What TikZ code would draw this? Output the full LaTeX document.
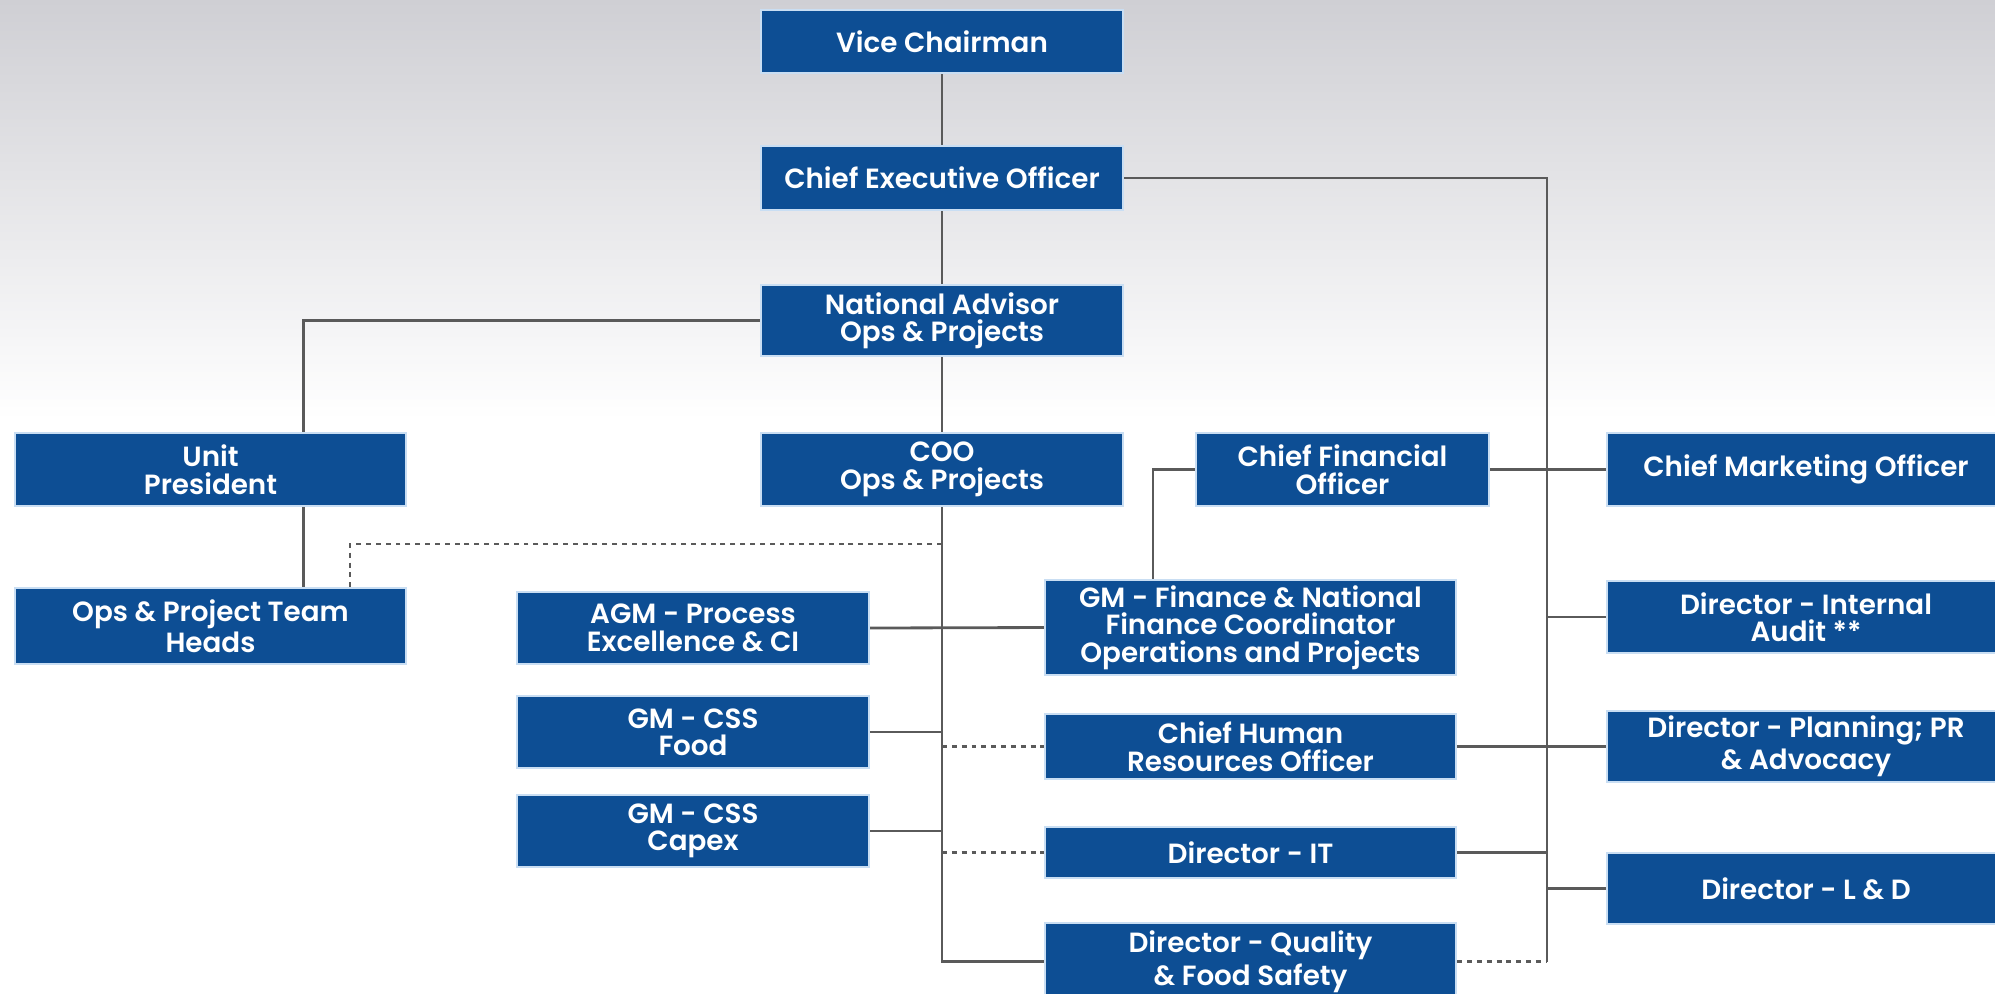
\documentclass[tikz,border=0pt]{standalone}
\usepackage{fontspec}
\newfontfamily\chartfont{Poppins}[BoldFont={* SemiBold}]
\usetikzlibrary{calc}
\definecolor{navy}{HTML}{0D4E94}
\definecolor{halo}{HTML}{C9DEF3}
\definecolor{wire}{HTML}{5A5A5A}
\definecolor{haze}{HTML}{CFCFD4}

\begin{document}
\begin{tikzpicture}[
    x=0.01cm, y=-0.01cm,
    post/.style={rectangle, fill=navy, draw=halo, line width=0.6pt, inner sep=0pt,
      text=white, align=center, font=\chartfont\bfseries\fontsize{7.9}{7.8}\selectfont},
    link/.style={draw=wire, line width=0.8pt},
    dotlink/.style={link, dash pattern=on 1.4pt off 1.4pt}]
  % fixed 1995 x 993 canvas, y runs downwards
  \path[use as bounding box] (0,0) rectangle (1995,993);
  \shade[top color=haze, bottom color=white] (0,0) rectangle (1995,420);

  % ================= top line =================
  \node[post, minimum width=3.62cm, minimum height=0.63cm] (vc) at (942,41.5) {Vice Chairman};
  \node[post, minimum width=3.62cm, minimum height=0.64cm] (ceo) at (942,178) {Chief Executive Officer};
  \node[post, minimum width=3.62cm, minimum height=0.71cm] (na) at (942,320.5) {National Advisor\\Ops \& Projects};

  % ================= second row =================
  \node[post, minimum width=3.91cm, minimum height=0.73cm] (unit) at (210.5,469.5) {Unit\\President};
  \node[post, minimum width=3.62cm, minimum height=0.73cm] (coo) at (942,469.5) {COO\\Ops \& Projects};
  \node[post, minimum width=2.93cm, minimum height=0.73cm] (cfo) at (1342.5,469.5) {Chief Financial\\Officer};
  \node[post, minimum width=3.98cm, minimum height=0.73cm] (cmo) at (1806,469.5) {Chief Marketing Officer};

  % ================= left columns =================
  \node[post, minimum width=3.91cm, minimum height=0.76cm] (ops) at (210.5,626) {Ops \& Project Team\\Heads};
  \node[post, minimum width=3.52cm, minimum height=0.72cm] (agm) at (693,628) {AGM - Process\\Excellence \& CI};
  \node[post, minimum width=3.52cm, minimum height=0.72cm] (food) at (693,732) {GM - CSS\\Food};
  \node[post, minimum width=3.52cm, minimum height=0.72cm] (capex) at (693,831) {GM - CSS\\Capex};

  % ================= middle column =================
  \node[post, minimum width=4.11cm, minimum height=0.95cm] (gmf) at (1250.5,627.5) {GM - Finance \& National\\Finance Coordinator\\Operations and Projects};
  \node[post, minimum width=4.11cm, minimum height=0.65cm] (chro) at (1250.5,746.5) {Chief Human\\Resources Officer};
  \node[post, minimum width=4.11cm, minimum height=0.51cm] (dit) at (1250.5,852.5) {Director - IT};
  \node[post, minimum width=4.11cm, minimum height=0.77cm] (dqf) at (1250.5,961.5) {Director - Quality\\\& Food Safety};

  % ================= right column =================
  \node[post, minimum width=3.98cm, minimum height=0.72cm] (dia) at (1806,617) {Director - Internal\\Audit **};
  \node[post, minimum width=3.98cm, minimum height=0.71cm] (dpl) at (1806,746.5) {Director - Planning; PR\\\& Advocacy};
  \node[post, minimum width=3.98cm, minimum height=0.71cm] (dld) at (1806,888.5) {Director - L \& D};

  % ================= connectors =================
  \coordinate (rvbot) at (1547,961.5);
  \coordinate (dotA) at (942,544);
  \draw[link] (vc) -- (ceo) -- (na) -- (coo);
  \draw[link] (coo.south) |- (dqf.west);
  \draw[link] (ceo.east) -| (rvbot);
  \draw[link] (na.west) -| ([xshift=0.93cm]unit.north);
  \draw[link] ([xshift=0.93cm]unit.south) -- ([xshift=0.93cm]ops.north);
  \draw[dotlink] (dotA) -| ([xshift=1.395cm]ops.north);
  \draw[link] (agm.east) -- (gmf.west);
  \draw[link] (cfo.west) -| ([xshift=-0.975cm]gmf.north);
  \draw[link] (cfo.east) -- (cmo.west);
  \draw[link] (food.east) -- (food.east -| coo.south);
  \draw[link] (capex.east) -- (capex.east -| coo.south);
  \draw[dotlink] (chro.west -| coo.south) -- (chro.west);
  \draw[dotlink] (dit.west -| coo.south) -- (dit.west);
  \draw[link] (chro.east) -- (dpl.west);
  \draw[link] (dit.east) -- (dit.east -| rvbot);
  \draw[link] (dia.west -| rvbot) -- (dia.west);
  \draw[link] (dld.west -| rvbot) -- (dld.west);
  \draw[dotlink] (dqf.east) -- (rvbot);
\end{tikzpicture}
\end{document}
